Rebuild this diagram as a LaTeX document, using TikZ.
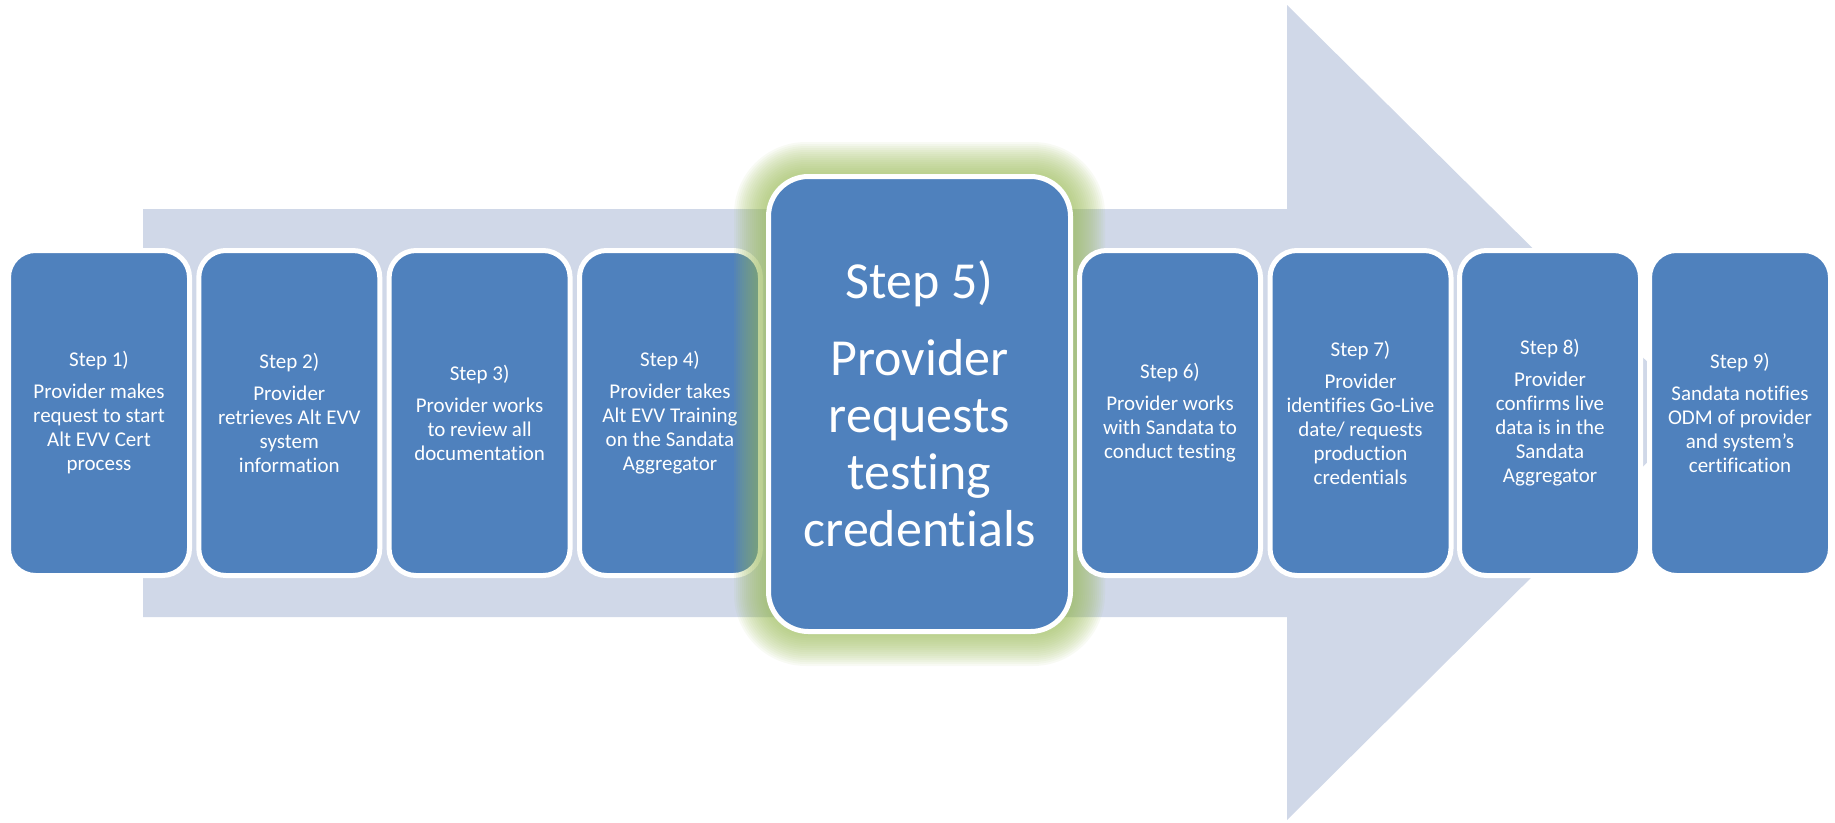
\documentclass[tikz,border=0pt]{standalone}
\usepackage{fontspec}
\setmainfont{Carlito}[Ligatures=NoCommon]
\definecolor{boxblue}{HTML}{4F81BD}
\definecolor{arrowgray}{HTML}{D0D8E8}
\definecolor{glowgreen}{HTML}{9BBB59}
\begin{document}
\begin{tikzpicture}[x=1pt,y=-1pt,
  stepbox/.style={draw=white, line width=5pt, fill=boxblue, rounded corners=27pt,
    minimum width=181pt, minimum height=325pt, inner sep=0pt, align=center,
    text=white, font=\fontsize{21}{24}\selectfont},
  bigbox/.style={stepbox, rounded corners=40pt, minimum width=302pt,
    minimum height=455pt, font=\fontsize{52}{57}\selectfont},
  glowlayer/.style={fill=glowgreen, opacity=0.065}]
\useasboundingbox (0,0) rectangle (1835,822);
% big background arrow
\fill[arrowgray] (143,209) -- (1287,209) -- (1287,5) -- (1698,412) -- (1287,820)
  -- (1287,617) -- (143,617) -- cycle;
% steps 1-4
\node[stepbox] (s1) at (99,413) {Step 1)\\[8pt]Provider makes\\request to start\\Alt EVV Cert\\process};
\node[stepbox] (s2) at (289.3,413) {Step 2)\\[8pt]Provider\\retrieves Alt EVV\\system\\information};
\node[stepbox] (s3) at (479.6,413) {Step 3)\\[8pt]Provider works\\to review all\\documentation};
\node[stepbox] (s4) at (670,413) {Step 4)\\[8pt]Provider takes\\Alt EVV Training\\on the Sandata\\Aggregator};
% glow around step 5
\foreach \e in {32,30,...,2}{
  \fill[glowlayer, rounded corners={40pt+\e pt}] (766-\e,174-\e) rectangle (1073+\e,634+\e);
}
\node[bigbox] (s5) at (919.5,404) {Step 5)\\[20pt]Provider\\requests\\testing\\credentials};
% steps 6-9
\node[stepbox] (s6) at (1170,413) {Step 6)\\[8pt]Provider works\\with Sandata to\\conduct testing};
\node[stepbox] (s7) at (1360.5,413) {Step 7)\\[8pt]Provider\\identifies Go-Live\\date/ requests\\production\\credentials};
\node[stepbox] (s8) at (1550,413) {Step 8)\\[8pt]Provider\\confirms live\\data is in the\\Sandata\\Aggregator};
\node[stepbox] (s9) at (1740,413) {Step 9)\\[8pt]Sandata notifies\\ODM of provider\\and system’s\\certification};
\end{tikzpicture}
\end{document}
